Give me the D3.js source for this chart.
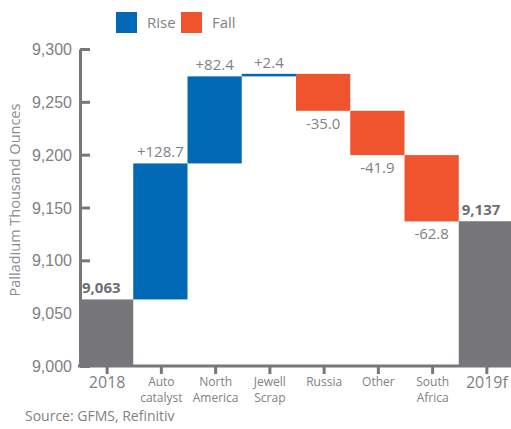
<!DOCTYPE html>
<html>
<head>
<meta charset="utf-8">
<script src="https://cdn.jsdelivr.net/npm/d3@7"></script>
<style>
  body { margin: 0; background: #fff; }
  svg { font-family: "Open Sans", "Noto Sans", sans-serif; }
</style>
</head>
<body>
<svg></svg>
<script>
var width = 511,
    height = 429;

// data
var categories = ["2018", "Auto\ncatalyst", "North\nAmerica", "Jewell\nScrap", "Russia", "Other", "South\nAfrica", "2019f"];
var changes = [9063, 128.7, 82.4, 2.4, -35.0, -41.9, -62.8, 9137];
var valueLabels = ["9,063", "+128.7", "+82.4", "+2.4", "-35.0", "-41.9", "-62.8", "9,137"];
var yTicks = [9000, 9050, 9100, 9150, 9200, 9250, 9300];

var blue = "#0068b5", orange = "#f0542f", grey = "#77777b", textGrey = "#808184";

var svg = d3.select("svg")
    .attr("width", width)
    .attr("height", height);

var x = d3.scaleBand()
    .domain(categories)
    .range([79, 513])
    .padding(0);

var y = d3.scaleLinear()
    .domain([9000, 9300])
    .range([366, 49]);

// build waterfall steps
var running = 0;
var steps = categories.map(function(c, i) {
    var last = i === 0 || i === categories.length - 1;
    var s;
    if (last) {
        s = {cat: c, y0: 9000, y1: changes[i], type: "total"};
        running = changes[i];
    } else {
        var prev = running;
        running = running + changes[i];
        s = {cat: c, y0: prev, y1: running, type: changes[i] >= 0 ? "rise" : "fall"};
    }
    s.label = valueLabels[i];
    return s;
});

///////////////////////
// axes
///////////////////////

var yAxis = svg.append("g")
    .attr("transform", "translate(80,0)")
    .call(d3.axisLeft(y).tickValues(yTicks).tickFormat(d3.format(",")).tickSizeInner(-10).tickSizeOuter(0).tickPadding(8));

yAxis.select(".domain").attr("stroke", grey).attr("stroke-width", 3);
yAxis.selectAll(".tick line").attr("stroke", grey).attr("stroke-width", 3);
yAxis.selectAll(".tick text")
    .attr("fill", textGrey)
    .style("font-size", "16px")
    .attr("dy", "0.35em");

var xAxis = svg.append("g")
    .attr("transform", "translate(0,366)");

xAxis.append("line")
    .attr("x1", 78)
    .attr("x2", 512)
    .attr("stroke", grey)
    .attr("stroke-width", 3);

xAxis.selectAll(".xtick")
    .data(categories)
    .enter()
    .append("line")
    .attr("x1", function(d) { return x(d) + x.bandwidth() / 2 + 1; })
    .attr("x2", function(d) { return x(d) + x.bandwidth() / 2 + 1; })
    .attr("y1", 0)
    .attr("y2", 8)
    .attr("stroke", grey)
    .attr("stroke-width", 3);

// one text per label line
var labelLines = [];
categories.forEach(function(d, i) {
    var big = i === 0 || i === categories.length - 1;
    d.split("\n").forEach(function(l, j) {
        labelLines.push({cat: d, text: l, big: big, row: j});
    });
});

xAxis.selectAll(".xlabel")
    .data(labelLines)
    .enter()
    .append("text")
    .attr("text-anchor", "middle")
    .attr("fill", textGrey)
    .style("font-size", function(d) { return d.big ? "16px" : "12px"; })
    .attr("x", function(d) { return x(d.cat) + x.bandwidth() / 2 + 1; })
    .attr("y", function(d) { return (d.big ? 22 : 19.5) + d.row * 16.5; })
    .text(function(d) { return d.text; });

///////////////////////
// bars
///////////////////////

svg.selectAll(".bar")
    .data(steps)
    .enter()
    .append("rect")
    .attr("x", function(d) { return x(d.cat); })
    .attr("width", x.bandwidth())
    .attr("y", function(d) { return y(Math.max(d.y0, d.y1)); })
    .attr("height", function(d) { return Math.max(2, Math.abs(y(d.y0) - y(d.y1))); })
    .attr("fill", function(d) {
        return d.type === "total" ? grey : d.type === "rise" ? blue : orange;
    });

///////////////////////
// value labels
///////////////////////

svg.selectAll(".val")
    .data(steps)
    .enter()
    .append("text")
    .attr("x", function(d) {
        return d.type === "total" ? x(d.cat) + 3 : x(d.cat) + x.bandwidth() / 2;
    })
    .attr("y", function(d) {
        if (d.type === "fall") return y(Math.min(d.y0, d.y1)) + 18;
        return y(Math.max(d.y0, d.y1)) - 6;
    })
    .attr("text-anchor", function(d) { return d.type === "total" ? "start" : "middle"; })
    .attr("fill", function(d) { return d.type === "total" ? "#6d6e71" : textGrey; })
    .style("font-size", "15px")
    .style("font-weight", function(d) { return d.type === "total" ? "bold" : "normal"; })
    .text(function(d) { return d.label; });

///////////////////////
// y title, legend, source
///////////////////////

svg.append("text")
    .attr("transform", "translate(20,200) rotate(-90)")
    .attr("text-anchor", "middle")
    .attr("fill", "#8a8b8e")
    .style("font-size", "14.5px")
    .text("Palladium Thousand Ounces");

var legendItems = [{name: "Rise", color: blue, x: 116}, {name: "Fall", color: orange, x: 181}];

var legend = svg.selectAll(".legend")
    .data(legendItems)
    .enter()
    .append("g");

legend.append("rect")
    .attr("x", function(d) { return d.x; })
    .attr("y", 12)
    .attr("width", 21)
    .attr("height", 21)
    .attr("fill", function(d) { return d.color; });

legend.append("text")
    .attr("x", function(d) { return d.x + 31; })
    .attr("y", 28)
    .attr("fill", textGrey)
    .style("font-size", "15px")
    .text(function(d) { return d.name; });

svg.append("text")
    .attr("x", 25)
    .attr("y", 421)
    .attr("fill", textGrey)
    .style("font-size", "14px")
    .text("Source: GFMS, Refinitiv");
</script>
</body>
</html>
